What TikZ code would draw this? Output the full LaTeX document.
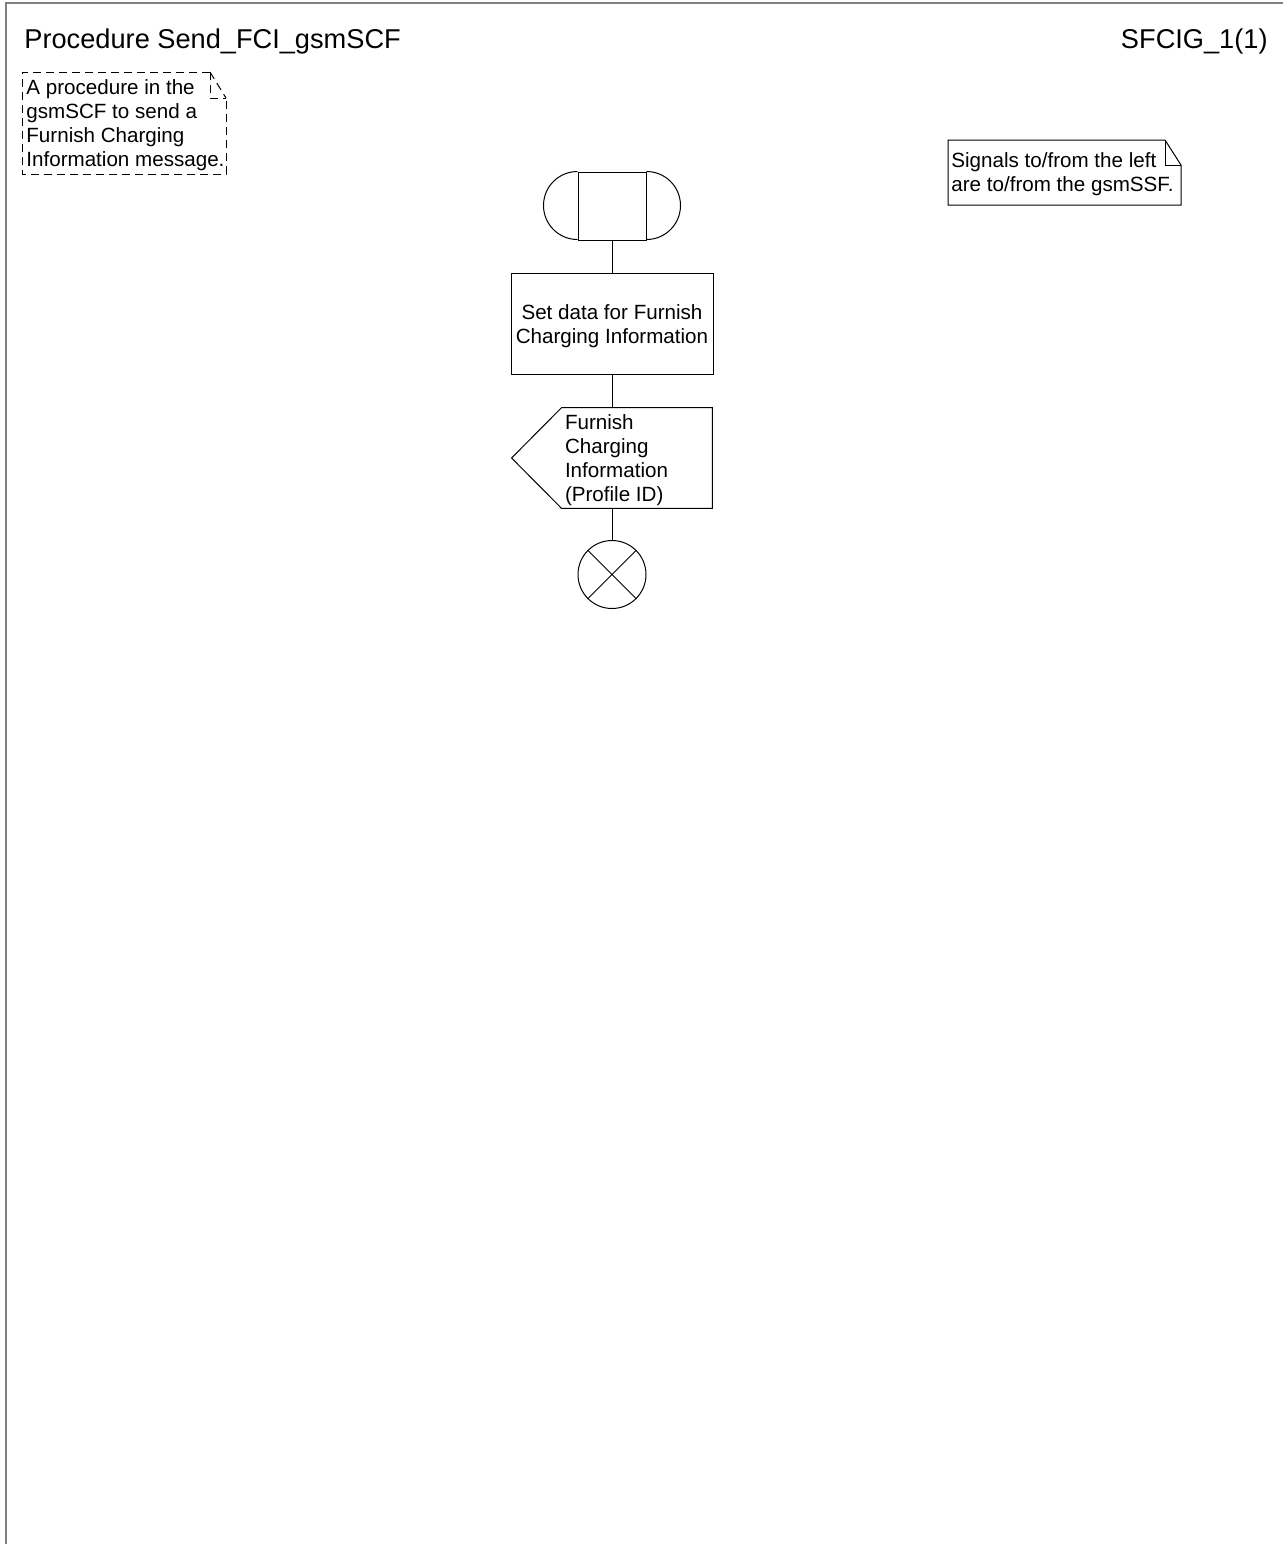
\documentclass[tikz,border=0pt]{standalone}
\usepackage{fontspec}
\setmainfont{Liberation Sans}
\usetikzlibrary{calc}
\begin{document}
\begin{tikzpicture}[x=0.5pt,y=-0.5pt,
  ln/.style={line width=0.5pt,draw=black},
  frame/.style={line width=1pt,draw=black!50},
  txt/.style={font=\fontsize{10.3pt}{12pt}\selectfont,inner sep=0pt},
  titletxt/.style={font=\fontsize{13.6pt}{16pt}\selectfont,inner sep=0pt},
  dnote/.style={line width=0.5pt,dash pattern=on 4pt off 2.5pt}]
\useasboundingbox (0,0) rectangle (1283,1544);
% frame
\draw[frame] (6,1544) -- (6,3) -- (1283,3);
% titles
\node[titletxt,anchor=base west] (title) at (24,48) {Procedure Send\_FCI\_gsmSCF};
\node[titletxt,anchor=base east] (page) at (1268,48) {SFCIG\_1(1)};
% dashed comment note
\draw[dnote] (210,72) -- (22,72) -- (22,174) -- (226,174) -- (226,98);
\draw[dnote] (210,72) -- (226,98);
\draw[dnote] (210,72) -- (210,98) -- (226,98);
\node[txt,anchor=west,align=left] (note1) at (26,125) {A procedure in the\\gsmSCF to send a\\Furnish Charging\\Information message.};
% right note
\draw[ln] (1165,140) -- (948,140) -- (948,205) -- (1181,205) -- (1181,165) -- cycle;
\draw[ln] (1165,140) -- (1165,165) -- (1181,165);
\node[txt,anchor=west,align=left] (note2) at (951,174) {Signals to/from the left\\are to/from the gsmSSF.};
% start symbol
\node[ln,draw,minimum width=34pt,minimum height=34pt,inner sep=0pt] (start) at (612,206) {};
\draw[ln] (start.north west) arc (90:270:17pt);
\draw[ln] (start.north east) arc (90:-90:17pt);
% task
\node[ln,draw,minimum width=101pt,minimum height=50.5pt,inner sep=0pt] (task) at (612,323.5) {};
\node[txt,align=center] (tasktxt) at ($(task.center)+(0,-1.2pt)$) {Set data for Furnish\\Charging Information};
% output signal
\node[minimum width=100pt,minimum height=50pt,inner sep=0pt] (sig) at (612,458) {};
\draw[ln] ($(sig.north west)+(25pt,0)$) -- (sig.north east) -- (sig.south east) -- ($(sig.south west)+(25pt,0)$) -- (sig.west) -- cycle;
\node[txt,anchor=west,align=left] (sigtxt) at ($(sig.west)+(26.5pt,-1pt)$) {Furnish\\Charging\\Information\\(Profile ID)};
% stop
\node[ln,draw,circle,minimum size=34pt,inner sep=0pt] (stop) at (612,574.5) {};
\draw[ln] (stop.north west) -- (stop.south east);
\draw[ln] (stop.north east) -- (stop.south west);
% connectors
\draw[ln] (start.south) -- (task.north);
\draw[ln] (task.south) -- (sig.north);
\draw[ln] (sig.south) -- (stop.north);
\end{tikzpicture}
\end{document}
